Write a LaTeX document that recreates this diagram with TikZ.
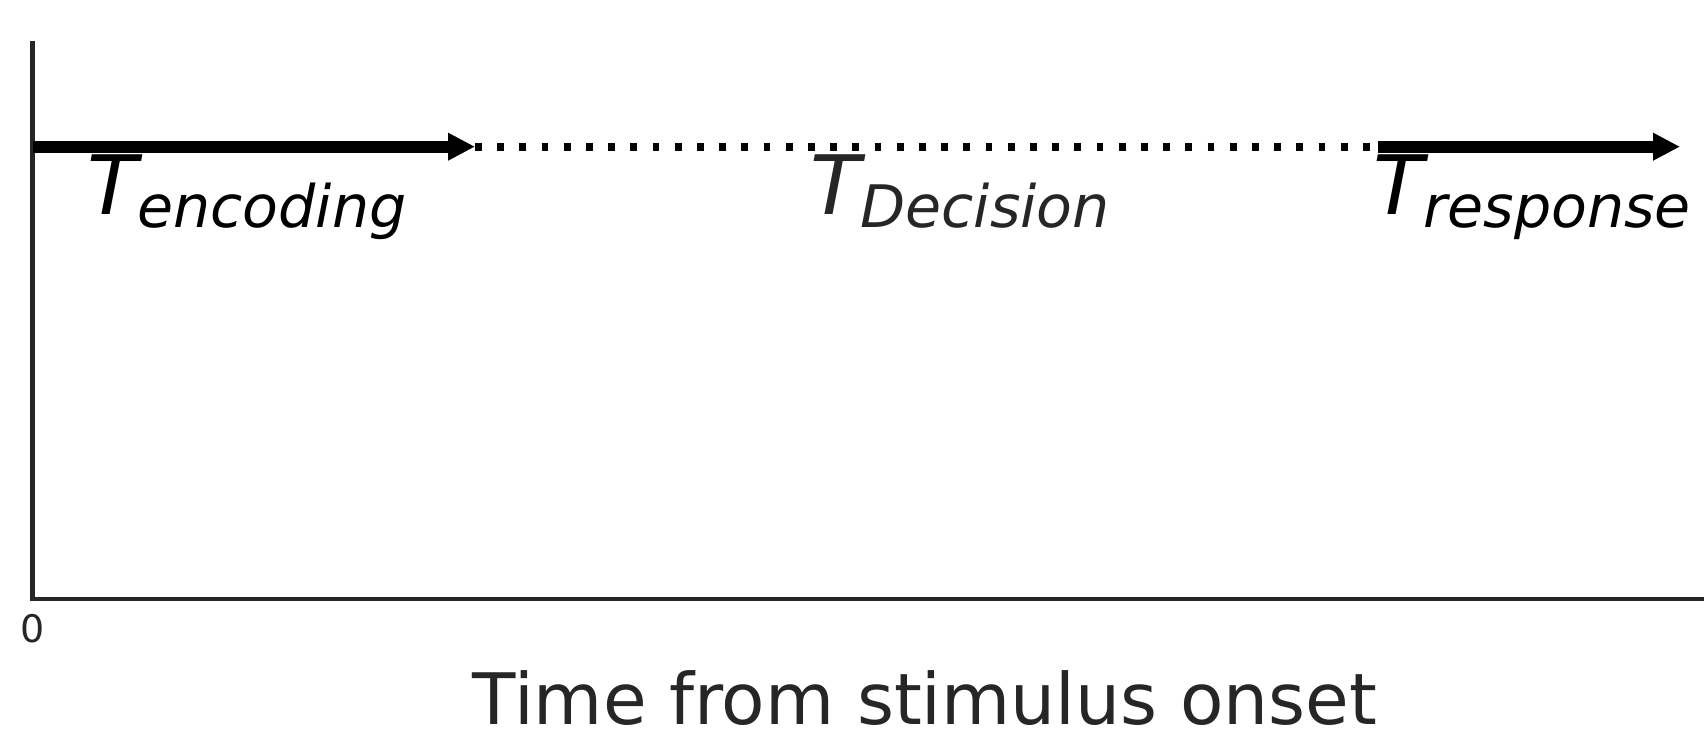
\documentclass[tikz,border=0pt]{standalone}
\usepackage{fontspec}
\setmainfont{DejaVu Sans}
\usetikzlibrary{arrows.meta}
\definecolor{axgray}{HTML}{262626}
\tikzset{
    phase/.style={line width=6pt, -{Triangle[length=13.5pt,width=13pt]}},
    waiting/.style={line width=4pt, dash pattern=on 3.35pt off 7.75pt},
    axisline/.style={line width=2.2pt, axgray},
}
\newcommand{\tlabel}[1]{{\fontsize{41pt}{41pt}\selectfont\itshape T}\raisebox{-6.5pt}{\fontsize{29.3pt}{29.3pt}\selectfont\itshape #1}}

\begin{document}
\begin{tikzpicture}[x=0.5pt, y=0.5pt]
        \useasboundingbox (0, 0) rectangle (1704, 747);
        \coordinate (origin) at (32.6, 148);
        \coordinate (ytop) at (32.6, 706);
        \coordinate (xend) at (1704, 148);
        \draw[axisline] (ytop) -- (origin) -- (xend);
        \node[axgray, anchor=base, font=\fontsize{19pt}{19pt}\selectfont] (zero) at (32.6, 104) {0};
        \node[axgray, anchor=base, font=\fontsize{35.5pt}{35.5pt}\selectfont] (xlabel) at (925, 22) {Time from stimulus onset};
        \coordinate (enc0) at (33, 600.3);
        \coordinate (enc1) at (475, 600.3);
        \coordinate (resp0) at (1378, 600.3);
        \coordinate (resp1) at (1680, 600.3);
        \draw[phase] (enc0) -- (enc1);
        \draw[waiting] (enc1) -- (resp0);
        \draw[phase] (resp0) -- (resp1);
        \node[anchor=base west, inner sep=0] (tenc) at (87, 532) {\tlabel{encoding}};
        \node[axgray, anchor=base west, inner sep=0] (tdec) at (810, 532) {\tlabel{Decision}};
        \node[anchor=base west, inner sep=0] (tresp) at (1373, 532) {\tlabel{response}};
    \end{tikzpicture}
\end{document}
